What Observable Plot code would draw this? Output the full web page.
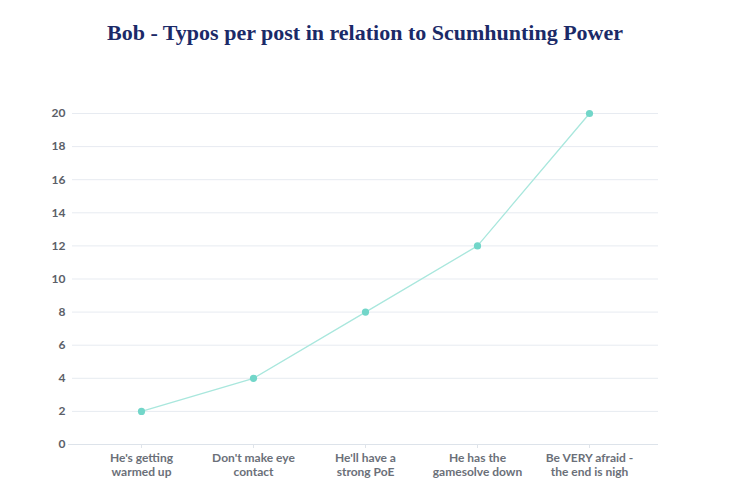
<!DOCTYPE html>
<html>
<head>
<meta charset="utf-8">
<script src="https://cdn.jsdelivr.net/npm/d3@7"></script>
<script src="https://cdn.jsdelivr.net/npm/@observablehq/plot@0.6"></script>
<style>
  html, body { margin: 0; padding: 0; background: #ffffff; }
  #title {
    width: 730px; height: 66px; line-height: 66px; text-align: center;
    font-family: "Liberation Serif", "Times New Roman", serif; font-weight: bold;
    font-size: 22px; color: #1b2a68;
  }
</style>
</head>
<body>
<div id="title">Bob - Typos per post in relation to Scumhunting Power</div>
<div id="chart"></div>
<script>
const categories = [
  "He's getting\nwarmed up",
  "Don't make eye\ncontact",
  "He'll have a\nstrong PoE",
  "He has the\ngamesolve down",
  "Be VERY afraid -\nthe end is nigh"
];
const values = [2, 4, 8, 12, 20];
const yTicks = [0, 2, 4, 6, 8, 10, 12, 14, 16, 18, 20];

const data = categories.map((c, i) => ({category: c, value: values[i]}));

const chart = Plot.plot({
  width: 730,
  height: 419,
  marginTop: 47,
  marginBottom: 41,
  marginLeft: 72,
  marginRight: 72,
  style: {fontFamily: "Lato, 'Open Sans', sans-serif", fontWeight: 700, background: "#ffffff"},
  x: {type: "point", domain: categories, padding: 0.604, label: null},
  y: {domain: [0, 20], label: null},
  marks: [
    Plot.gridY(yTicks, {stroke: "#e7ebf1", strokeOpacity: 1, strokeWidth: 1}),
    Plot.ruleY([0], {stroke: "#dde3ea", strokeWidth: 1.2, insetLeft: -4}),
    Plot.axisY(yTicks, {tickSize: 0, tickPadding: 7, fill: "#5b6068", fontSize: 12}),
    Plot.axisX({tickSize: 4, tickPadding: 4, stroke: "#dfe4ea", fill: "#6b7079", fontSize: 12, lineHeight: 1.15}),
    Plot.line(data, {x: "category", y: "value", stroke: "#a9e7dd", strokeWidth: 1.3}),
    Plot.dot(data, {x: "category", y: "value", r: 3.6, fill: "#72d6c9", stroke: "none"})
  ]
});
document.getElementById("chart").appendChild(chart);
</script>
</body>
</html>
